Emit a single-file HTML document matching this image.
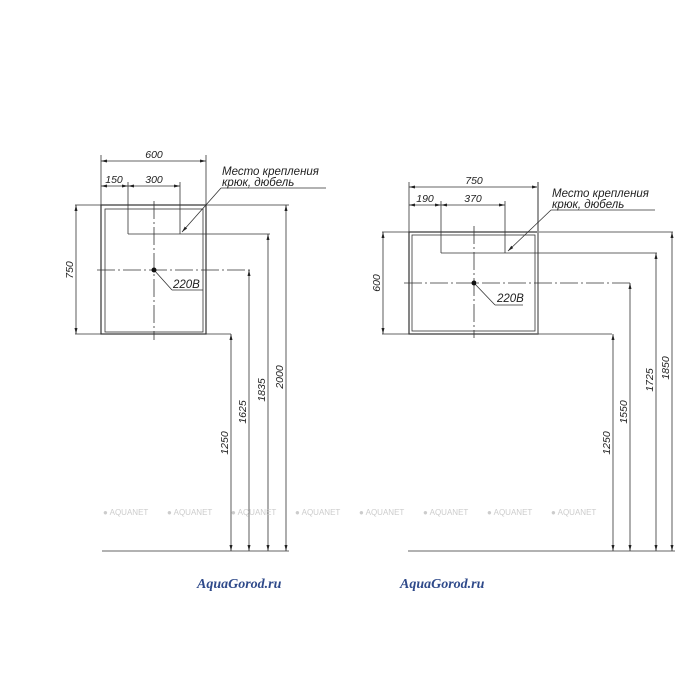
<!DOCTYPE html>
<html><head><meta charset="utf-8"><style>
html,body{margin:0;padding:0;background:#fff}
svg{display:block}
text{font-family:"Liberation Sans",sans-serif;font-style:italic;fill:#222}
</style></head><body>
<svg width="700" height="700" viewBox="0 0 700 700" xmlns="http://www.w3.org/2000/svg">
<defs>
<marker id="a" viewBox="0 0 10 10" refX="10" refY="5" markerWidth="6" markerHeight="6" orient="auto-start-reverse" markerUnits="userSpaceOnUse"><path d="M0,2.5 L10,5 L0,7.5z" fill="#222"/></marker>
</defs>
<g stroke="#333" stroke-width="0.8" fill="none">
<!-- LEFT -->
<line x1="101" y1="161" x2="206" y2="161" marker-start="url(#a)" marker-end="url(#a)"/>
<line x1="101" y1="155" x2="101" y2="205"/><line x1="206" y1="155" x2="206" y2="205"/>
<line x1="101" y1="186" x2="128" y2="186" marker-start="url(#a)" marker-end="url(#a)"/>
<line x1="128" y1="186" x2="180" y2="186" marker-start="url(#a)" marker-end="url(#a)"/>
<line x1="128" y1="182" x2="128" y2="234"/><line x1="180" y1="182" x2="180" y2="234"/>
<line x1="75" y1="205" x2="289" y2="205"/>
<rect x="101" y="205" width="105" height="129" stroke-width="1.2"/>
<rect x="105" y="209" width="98" height="123"/>
<line x1="75" y1="334" x2="231" y2="334"/>
<line x1="128" y1="234" x2="270" y2="234"/>
<line x1="97" y1="270" x2="252" y2="270" stroke-dasharray="18,3,2,3"/>
<line x1="154" y1="201" x2="154" y2="340" stroke-dasharray="18,3,2,3"/>
<line x1="154" y1="270" x2="172" y2="290"/><line x1="172" y1="290" x2="203" y2="290"/>
<line x1="221" y1="188" x2="182" y2="232" marker-end="url(#a)"/><line x1="221" y1="188" x2="326" y2="188"/>
<line x1="76" y1="205" x2="76" y2="334" marker-start="url(#a)" marker-end="url(#a)"/>
<line x1="231" y1="334" x2="231" y2="551" marker-start="url(#a)" marker-end="url(#a)"/>
<line x1="249" y1="270" x2="249" y2="551" marker-start="url(#a)" marker-end="url(#a)"/>
<line x1="268" y1="234" x2="268" y2="551" marker-start="url(#a)" marker-end="url(#a)"/>
<line x1="286" y1="205" x2="286" y2="551" marker-start="url(#a)" marker-end="url(#a)"/>
<line x1="102" y1="551" x2="289" y2="551"/>
<!-- RIGHT -->
<line x1="409" y1="187" x2="538" y2="187" marker-start="url(#a)" marker-end="url(#a)"/>
<line x1="409" y1="182" x2="409" y2="232"/>
<line x1="409" y1="205" x2="441" y2="205" marker-start="url(#a)" marker-end="url(#a)"/>
<line x1="441" y1="205" x2="505" y2="205" marker-start="url(#a)" marker-end="url(#a)"/>
<line x1="441" y1="201" x2="441" y2="253"/><line x1="505" y1="201" x2="505" y2="253"/>
<line x1="382" y1="232" x2="673" y2="232"/>
<rect x="409" y="232" width="129" height="102" stroke-width="1.2"/>
<line x1="538" y1="182" x2="538" y2="334" stroke="#999" stroke-width="2"/>
<rect x="412" y="235" width="123" height="96"/>
<line x1="382" y1="334" x2="612" y2="334"/>
<line x1="441" y1="253" x2="657" y2="253"/>
<line x1="404" y1="283" x2="633" y2="283" stroke-dasharray="18,3,2,3"/>
<line x1="474" y1="226" x2="474" y2="338" stroke-dasharray="18,3,2,3"/>
<line x1="474" y1="283" x2="495" y2="305"/><line x1="495" y1="305" x2="523" y2="305"/>
<line x1="551" y1="210" x2="508" y2="251" marker-end="url(#a)"/><line x1="551" y1="210" x2="655" y2="210"/>
<line x1="383" y1="232" x2="383" y2="334" marker-start="url(#a)" marker-end="url(#a)"/>
<line x1="613" y1="334" x2="613" y2="551" marker-start="url(#a)" marker-end="url(#a)"/>
<line x1="630" y1="283" x2="630" y2="551" marker-start="url(#a)" marker-end="url(#a)"/>
<line x1="656" y1="253" x2="656" y2="551" marker-start="url(#a)" marker-end="url(#a)"/>
<line x1="672" y1="232" x2="672" y2="551" marker-start="url(#a)" marker-end="url(#a)"/>
<line x1="408" y1="551" x2="675" y2="551"/>
</g>
<circle cx="154" cy="270" r="2.5" fill="#111"/>
<circle cx="474" cy="283" r="2.5" fill="#111"/>
<g font-size="10.5">
<text x="154" y="158" text-anchor="middle">600</text>
<text x="114" y="183" text-anchor="middle">150</text>
<text x="154" y="183" text-anchor="middle">300</text>
<text x="222" y="175" font-size="11.5">Место крепления</text>
<text x="222" y="186" font-size="11.5">крюк, дюбель</text>
<text x="173" y="288" font-size="11.5">220В</text>
<text transform="translate(73,270) rotate(-90)" text-anchor="middle">750</text>
<text transform="translate(228,443) rotate(-90)" text-anchor="middle">1250</text>
<text transform="translate(246,412) rotate(-90)" text-anchor="middle">1625</text>
<text transform="translate(265,390) rotate(-90)" text-anchor="middle">1835</text>
<text transform="translate(283,377) rotate(-90)" text-anchor="middle">2000</text>
<text x="474" y="184" text-anchor="middle">750</text>
<text x="425" y="202" text-anchor="middle">190</text>
<text x="473" y="202" text-anchor="middle">370</text>
<text x="552" y="197" font-size="11.5">Место крепления</text>
<text x="552" y="208" font-size="11.5">крюк, дюбель</text>
<text x="497" y="302" font-size="11.5">220В</text>
<text transform="translate(380,283) rotate(-90)" text-anchor="middle">600</text>
<text transform="translate(610,443) rotate(-90)" text-anchor="middle">1250</text>
<text transform="translate(627,412) rotate(-90)" text-anchor="middle">1550</text>
<text transform="translate(653,380) rotate(-90)" text-anchor="middle">1725</text>
<text transform="translate(669,368) rotate(-90)" text-anchor="middle">1850</text>
</g>
<g font-size="8">
<text x="103" y="515" style="fill:#ccc;font-style:normal">● AQUANET</text>
<text x="167" y="515" style="fill:#ccc;font-style:normal">● AQUANET</text>
<text x="231" y="515" style="fill:#ccc;font-style:normal">● AQUANET</text>
<text x="295" y="515" style="fill:#ccc;font-style:normal">● AQUANET</text>
<text x="359" y="515" style="fill:#ccc;font-style:normal">● AQUANET</text>
<text x="423" y="515" style="fill:#ccc;font-style:normal">● AQUANET</text>
<text x="487" y="515" style="fill:#ccc;font-style:normal">● AQUANET</text>
<text x="551" y="515" style="fill:#ccc;font-style:normal">● AQUANET</text>
</g>
<text x="197" y="588" style="font-family:'Liberation Serif',serif;font-weight:bold;font-style:italic;fill:#2f4a8a" font-size="14">AquaGorod.ru</text>
<text x="400" y="588" style="font-family:'Liberation Serif',serif;font-weight:bold;font-style:italic;fill:#2f4a8a" font-size="14">AquaGorod.ru</text>
</svg>
</body></html>
